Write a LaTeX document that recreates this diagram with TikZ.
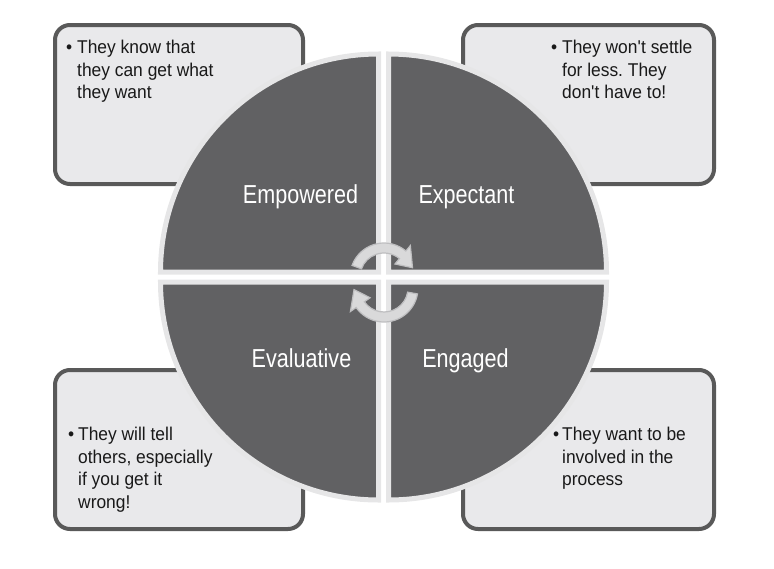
\documentclass[tikz,border=0pt]{standalone}
\usepackage{fontspec}
\setmainfont{Liberation Sans}[FakeStretch=0.94]
\newfontfamily\quadfont{Liberation Sans}[FakeStretch=0.83]
\usepackage{xcolor}
\usepackage{tikz}
\usetikzlibrary{calc}
\frenchspacing

\definecolor{boxfill}{RGB}{233,233,235}
\definecolor{boxedge}{RGB}{89,89,89}
\definecolor{quadfill}{RGB}{97,97,99}
\definecolor{quadedge}{RGB}{230,230,231}
\definecolor{turnfill}{RGB}{217,217,218}
\definecolor{turnedge}{RGB}{190,190,192}
\definecolor{notecol}{RGB}{25,25,25}

\tikzset{
  notebox/.style={draw=boxedge, fill=boxfill, line width=4pt, rounded corners=15pt},
  quarter/.style={draw=quadedge, fill=quadfill, line width=5pt},
  notetext/.style={anchor=north west, inner sep=0pt, align=left, text=notecol,
    font=\fontsize{18.5}{22.5}\selectfont},
  quadlabel/.style={anchor=base, inner sep=0pt, text=white,
    font=\quadfont\fontsize{26}{30}\selectfont},
  turn/.style={fill=turnfill, draw=turnedge, line width=1.2pt}
}

\begin{document}
\begin{tikzpicture}[x=1pt, y=-1pt]
  \useasboundingbox (0,0) rectangle (774,568);

  % Note boxes
  \draw[notebox] (55,25) rectangle (303,184);
  \draw[notebox] (463,25) rectangle (714,184);
  \draw[notebox] (55,370) rectangle (303,529);
  \draw[notebox] (463,370) rectangle (714,529);

  % Circle quarters
  \foreach \dx/\dy/\a in {-1/-1/180, 1/-1/270, 1/1/0, -1/1/90}
    \draw[quarter] (383.5+5*\dx, 277+5*\dy) -- ++(\a:218)
      arc[start angle=\a, delta angle=90, radius=218] -- cycle;

  % Quarter labels
  \node[quadlabel] (empowered) at (300.5,203) {Empowered};
  \node[quadlabel] (expectant) at (466.5,203) {Expectant};
  \node[quadlabel] (evaluative) at (301.5,367) {Evaluative};
  \node[quadlabel] (engaged) at (465.5,367) {Engaged};

  % Turning arrows
  \begin{scope}[shift={(384,277)}, yscale=-1]
    \draw[turn] (160:34) arc[start angle=160, end angle=50, radius=34]
      -- (50:41) -- (18:30) -- (50:17) -- (50:24)
      arc[start angle=50, end angle=160, radius=24] -- cycle;
  \end{scope}
  \begin{scope}[shift={(384,288)}, yscale=-1, rotate=180]
    \draw[turn] (170:34) arc[start angle=170, end angle=35, radius=34]
      -- (35:41) -- (3:30) -- (35:17) -- (35:24)
      arc[start angle=35, end angle=170, radius=24] -- cycle;
  \end{scope}

  % Box texts
  \node[notetext] (know) at (66,40)
    {\makebox[11pt][l]{\textbullet}They know that\\
     \hspace*{11pt}they can get what\\
     \hspace*{11pt}they want};
  \node[notetext] (settle) at (551,40)
    {\makebox[11pt][l]{\textbullet}They won\textquotesingle t settle\\
     \hspace*{11pt}for less. They\\
     \hspace*{11pt}don\textquotesingle t have to!};
  \node[notetext] (tell) at (68,427)
    {\makebox[10pt][l]{\textbullet}They will tell\\
     \hspace*{10pt}others, especially\\
     \hspace*{10pt}if you get it\\
     \hspace*{10pt}wrong!};
  \node[notetext] (involved) at (553,427)
    {\makebox[9pt][l]{\textbullet}They want to be\\
     \hspace*{9pt}involved in the\\
     \hspace*{9pt}process};
\end{tikzpicture}
\end{document}
